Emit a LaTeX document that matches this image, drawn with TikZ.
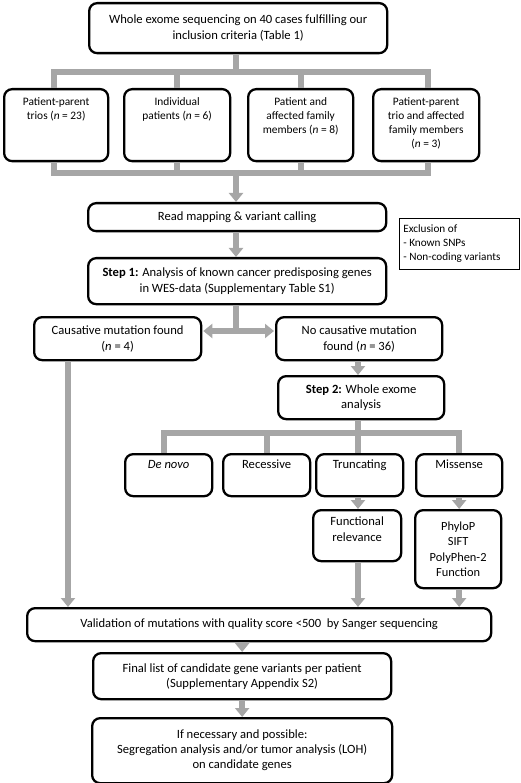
\documentclass[tikz,border=0pt]{standalone}
\usepackage{fontspec}
\setmainfont{Carlito}
\usetikzlibrary{arrows.meta,calc}
\definecolor{conngray}{HTML}{A6A6A6}
\newcommand{\tbx}[4]{\begin{minipage}[c][#2][t]{#1}\centering\vspace*{#3}#4\end{minipage}}
\tikzset{
  box/.style={draw, line width=2.3pt, rounded corners=8pt, inner sep=0pt, align=center,
    anchor=north west, font=\fontsize{12.6}{15.8}\selectfont},
  smallbox/.style={box, font=\fontsize{11.4}{14.3}\selectfont},
  exclbox/.style={draw, line width=0.7pt, inner sep=0pt, anchor=north west, align=left,
    font=\fontsize{11.2}{14}\selectfont},
  conn/.style={draw=conngray, line width=6pt},
  arr/.style={conn, -{Triangle[width=14pt,length=9pt]}},
  darr/.style={conn, {Triangle[width=14pt,length=9pt]}-{Triangle[width=14pt,length=9pt]}}
}
\begin{document}
\begin{tikzpicture}[x=1pt,y=-1pt]
\useasboundingbox (0,0) rectangle (520,783);
% boxes
\node[box, minimum width=298pt, minimum height=50pt] (top) at (88,2)
  {Whole exome sequencing on 40 cases fulfilling our\\inclusion criteria (Table 1)};
\node[smallbox, minimum width=104pt, minimum height=72pt] (b1) at (3,88)
  {\tbx{100pt}{72pt}{8pt}{Patient-parent\\trios (\textit{n} = 23)}};
\node[smallbox, minimum width=106pt, minimum height=72pt] (b2) at (123,88)
  {\tbx{100pt}{72pt}{8pt}{Individual\\patients (\textit{n} = 6)}};
\node[smallbox, minimum width=105pt, minimum height=72pt] (b3) at (247,88)
  {\tbx{100pt}{72pt}{8pt}{Patient and\\affected family\\members (\textit{n} = 8)}};
\node[smallbox, minimum width=106pt, minimum height=72pt] (b4) at (372,88)
  {\tbx{100pt}{72pt}{8pt}{Patient-parent\\trio and affected\\family members\\(\textit{n} = 3)}};
\node[box, minimum width=298pt, minimum height=28pt] (read) at (87,202)
  {Read mapping \& variant calling};
\node[exclbox, minimum width=120pt, minimum height=51pt] (excl) at (399,218)
  {\begin{minipage}[c][51pt][c]{112pt}Exclusion of\\- Known SNPs\\- Non-coding variants\end{minipage}};
\node[box, minimum width=298pt, minimum height=46pt] (step1) at (87,257)
  {\textbf{Step 1:} Analysis of known cancer predisposing genes\\in WES-data (Supplementary Table S1)};
\node[box, minimum width=167pt, minimum height=43pt] (caus) at (33,316)
  {Causative mutation found\\(\textit{n} = 4)};
\node[box, minimum width=166pt, minimum height=43pt] (nocaus) at (275,316)
  {No causative mutation\\found (\textit{n} = 36)};
\node[box, minimum width=166pt, minimum height=43pt] (step2) at (277,375)
  {\textbf{Step 2:} Whole exome\\analysis};
\node[box, minimum width=87pt, minimum height=42pt] (denovo) at (124,453)
  {\tbx{84pt}{42pt}{6pt}{\textit{De novo}}};
\node[box, minimum width=87pt, minimum height=42pt] (reces) at (222,453)
  {\tbx{84pt}{42pt}{6pt}{Recessive}};
\node[box, minimum width=87pt, minimum height=42pt] (trunc) at (315,453)
  {\tbx{84pt}{42pt}{6pt}{Truncating}};
\node[box, minimum width=86pt, minimum height=42pt] (miss) at (415,453)
  {\tbx{84pt}{42pt}{6pt}{Missense}};
\node[box, minimum width=88pt, minimum height=51pt] (func) at (312,509)
  {\tbx{84pt}{51pt}{7pt}{Functional\\relevance}};
\node[box, minimum width=86pt, minimum height=78pt, font=\fontsize{12.4}{15.3}\selectfont] (phylo) at (414,509)
  {PhyloP\\SIFT\\PolyPhen-2\\Function};
\node[box, minimum width=464pt, minimum height=33pt] (valid) at (26,607)
  {Validation of mutations with quality score <500\ \ by Sanger sequencing};
\node[box, minimum width=298pt, minimum height=46pt, font=\fontsize{12.6}{15}\selectfont] (final) at (92,652)
  {Final list of candidate gene variants per patient\\(Supplementary Appendix S2)};
\node[box, minimum width=300pt, minimum height=65pt, font=\fontsize{12.6}{15}\selectfont] (ifnec) at (91,717)
  {If necessary and possible:\\Segregation analysis and/or tumor analysis (LOH)\\on candidate genes};
% coordinates
\coordinate (bar1) at (236,72);
\coordinate (bar2) at (236,173);
\coordinate (b1x) at ($(b1.north)+(-2,0)$);
\coordinate (b4x) at ($(b4.north)+(2,0)$);
\coordinate (b1y) at ($(b1.south)+(-2,0)$);
\coordinate (b4y) at ($(b4.south)+(2,0)$);
\coordinate (split) at (236,331);
\coordinate (bar3) at (358,433);
\coordinate (dnx) at ($(denovo.north)+(-5,0)$);
\coordinate (cx) at ($(caus.south west)+(35,0)$);
% connectors
\draw[conn] (top.south -| bar1) -- (bar1);
\draw[conn] (b1x) |- (bar1) -| (b4x);
\draw[conn] (b2.north) -- (b2.north |- bar1);
\draw[conn] (b3.north) -- (b3.north |- bar1);
\draw[conn] (b1y) |- (bar2) -| (b4y);
\draw[conn] (b2.south) -- (b2.south |- bar2);
\draw[conn] (b3.south) -- (b3.south |- bar2);
\draw[arr] ([yshift=3pt]bar2) -- (read.north -| bar2);
\draw[arr] (read.south -| bar2) -- (step1.north -| bar2);
\draw[conn] (step1.south -| split) -- ([yshift=3pt]split);
\draw[darr] ([xshift=1pt]caus.east |- split) -- ([xshift=-1pt]nocaus.west |- split);
\draw[arr] (nocaus.south -| bar3) -- (step2.north -| bar3);
\draw[conn] (step2.south -| bar3) -- (bar3);
\draw[conn] (dnx) |- (bar3) -| (miss.north);
\draw[conn] (reces.north) -- (reces.north |- bar3);
\draw[conn] (trunc.north -| bar3) -- (bar3);
\draw[arr] (trunc.south -| bar3) -- (func.north -| bar3);
\draw[arr] (miss.south) -- (miss.south |- phylo.north);
\draw[arr] (func.south -| bar3) -- (valid.north -| bar3);
\draw[arr] (phylo.south -| miss.south) -- (valid.north -| miss.south);
\draw[arr] (cx) -- (cx |- valid.north);
\draw[arr] (final.north |- valid.south) -- (final.north);
\draw[arr] (final.south) -- (ifnec.north);
\end{tikzpicture}
\end{document}
